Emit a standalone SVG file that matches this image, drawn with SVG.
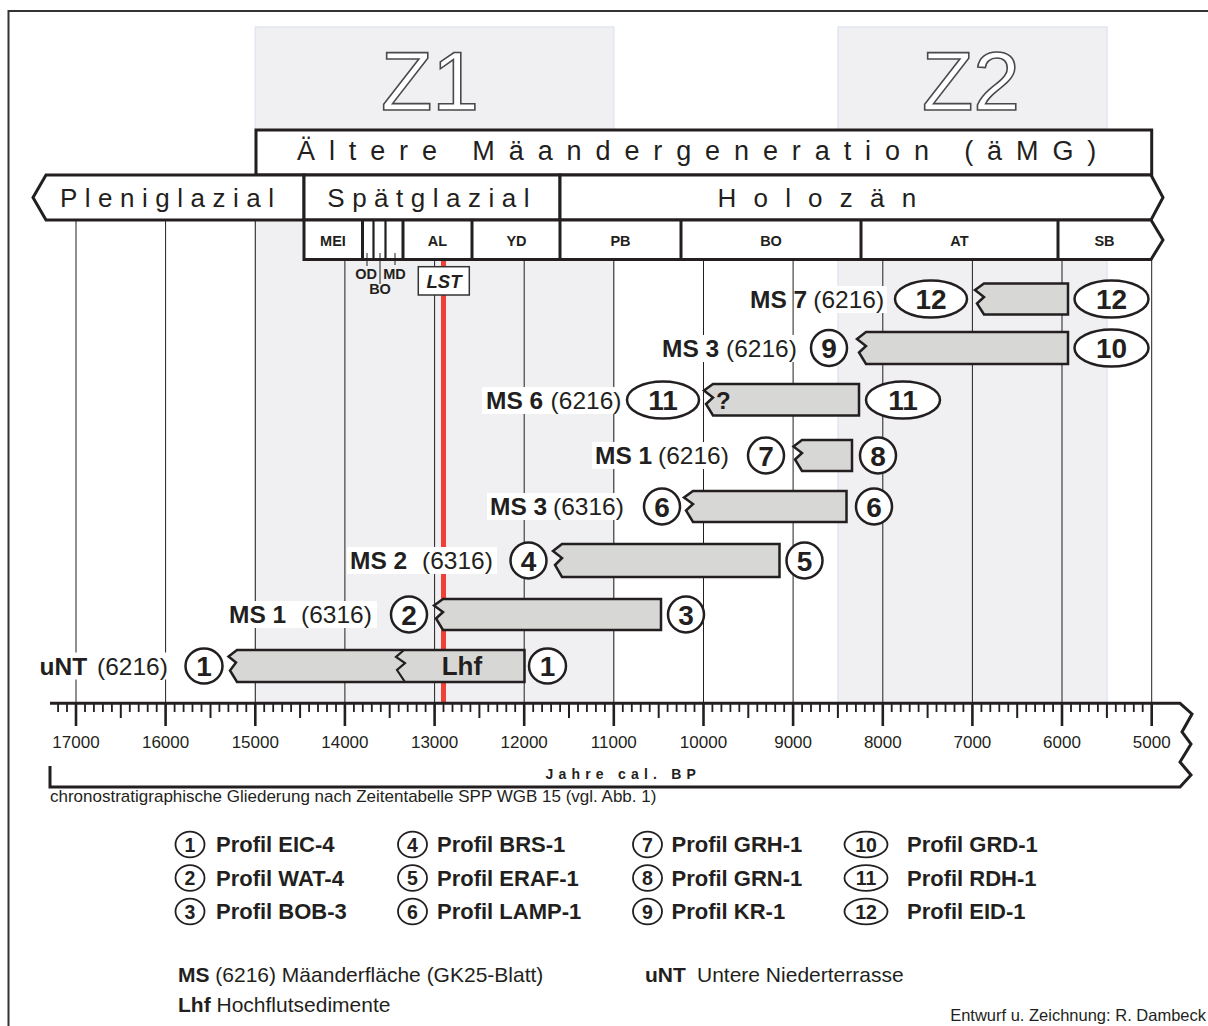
<svg xmlns="http://www.w3.org/2000/svg" width="1208" height="1026" viewBox="0 0 1208 1026">
<style>
text{font-family:"Liberation Sans",Arial,Helvetica,sans-serif;fill:#231f20}
.b{font-weight:bold}
.zone{fill:#f0eff1;stroke:#e1e6f1;stroke-width:1.5}
.ztxt{font-size:84px;fill:#fff;stroke:#4a4a4c;stroke-width:1.6;text-anchor:middle}
.grid{stroke:#231f20;stroke-width:1;fill:none}
.box{fill:#fff;stroke:#231f20;stroke-width:3}
.div{stroke:#231f20;stroke-width:3}
.thin{stroke:#231f20;stroke-width:2.2}
.lead{stroke:#231f20;stroke-width:1}
.hdr{font-size:27px;letter-spacing:13.9px}
.ep{font-size:26px;letter-spacing:7.5px}
.sub{font-size:14.5px;font-weight:bold;text-anchor:middle}
.bar{fill:#d7d7d5;stroke:#231f20;stroke-width:2.5}
.ring{fill:#fff;stroke:#231f20;stroke-width:2.5}
.num{font-size:28px;font-weight:bold;text-anchor:middle}
.lbl{font-size:24.5px}
.bg{fill:#fff}
.yr{font-size:17px;text-anchor:middle}
.lring{fill:#fff;stroke:#231f20;stroke-width:1.8}
.lnum{font-size:19.5px;font-weight:bold;text-anchor:middle}
.ltxt{font-size:22px;font-weight:bold}
.leg{font-size:21px}
</style>

<!-- frame -->
<path d="M8.5 1026V11H1208" fill="none" stroke="#333" stroke-width="2"/>

<!-- zones -->
<g id="zone-Z1">
<rect class="zone" x="255.3" y="27" width="358.5" height="676"/>
<text class="ztxt" x="430" y="110">Z1</text>
</g>
<g id="zone-Z2">
<rect class="zone" x="838" y="27" width="269" height="676"/>
<text class="ztxt" x="971" y="110">Z2</text>
</g>

<!-- grid lines -->
<g id="grid" class="grid">
<path d="M76 220V703M165.6 220V703M255.3 220V703M344.9 259V703M434.6 259V703M524.2 259V703M613.8 259V703M703.5 259V703M793.1 259V703M882.8 259V703M972.4 259V703M1062 259V703M1151.7 259V703"/>
</g>

<!-- LST red line -->
<g id="lst-line">
<rect x="441" y="259" width="5" height="444" fill="#ef4136"/>
</g>

<!-- header: Ältere Mäandergeneration -->
<g id="aemg">
<rect class="box" x="256" y="130" width="895.7" height="45"/>
<text class="hdr" x="297" y="159.5">Ältere Mäandergeneration (äMG)</text>
</g>

<!-- epochs -->
<g id="pleniglazial">
<path class="box" d="M46 175H304V220H46L33 197.5Z"/>
<text class="ep" x="60" y="206.5">Pleniglazial</text>
</g>
<g id="spaetglazial">
<rect class="box" x="304" y="175" width="256" height="45"/>
<text class="ep" x="327.3" y="206.5">Spätglazial</text>
</g>
<g id="holozaen">
<path class="box" d="M560 175H1151L1163 197.5L1151 220H560Z"/>
<text class="ep" x="717.5" y="206.5" style="letter-spacing:17.2px">Holozän</text>
</g>

<!-- chronozones -->
<g id="chronozones">
<path class="box" d="M304 220H1151L1163 240L1151 259.5H304Z"/>
<path class="div" d="M362.5 220V259.5M403 220V259.5M472 220V259.5M560 220V259.5M681 220V259.5M861 220V259.5M1058 220V259.5"/>
<path class="thin" d="M373.5 220V259.5M385.5 220V259.5"/>
<text class="sub" x="333" y="246">MEI</text>
<text class="sub" x="437.5" y="246">AL</text>
<text class="sub" x="516.5" y="246">YD</text>
<text class="sub" x="620.5" y="246">PB</text>
<text class="sub" x="771" y="246">BO</text>
<text class="sub" x="959.5" y="246">AT</text>
<text class="sub" x="1104.5" y="246">SB</text>
<path class="lead" d="M367 253V266M380 253V284M395 253V265"/>
<text class="sub" x="366" y="278.5">OD</text>
<text class="sub" x="394.5" y="278.5">MD</text>
<text class="sub" x="380" y="293.5">BO</text>
</g>

<g id="lst-label">
<rect x="418.3" y="266.7" width="51" height="28.3" fill="#fff" stroke="#333" stroke-width="1.5"/>
<text x="444" y="288" class="b" style="font-size:18.5px;font-style:italic;text-anchor:middle">LST</text>
</g>

<!-- row MS 7 (6216) -->
<g id="row-ms7-6216">
<rect class="bg" x="797" y="286" width="90" height="27"/>
<text class="lbl" y="307.8"><tspan class="b" x="750">MS 7</tspan><tspan x="813.3">(6216)</tspan></text>
<path class="bar" d="M984 283.5H1068V314.5H984L977 303.5L984 297L975 290Z"/>
<ellipse class="ring" cx="931" cy="299" rx="36" ry="18.5"/>
<text class="num" x="931" y="309">12</text>
<ellipse class="ring" cx="1111.5" cy="299" rx="37" ry="18.5"/>
<text class="num" x="1111.5" y="309">12</text>
</g>

<!-- row MS 3 (6216) -->
<g id="row-ms3-6216">
<rect class="bg" x="659" y="335" width="142" height="27"/>
<text class="lbl" y="356.8"><tspan class="b" x="662">MS 3</tspan><tspan x="726">(6216)</tspan></text>
<path class="bar" d="M866 332H1068V364H866L859 352.5L866 346L857 339Z"/>
<circle class="ring" cx="829" cy="348" r="18"/>
<text class="num" x="829" y="358">9</text>
<ellipse class="ring" cx="1111.5" cy="348" rx="37" ry="18.5"/>
<text class="num" x="1111.5" y="358">10</text>
</g>

<!-- row MS 6 (6216) -->
<g id="row-ms6-6216">
<rect class="bg" x="482" y="387" width="141" height="27"/>
<text class="lbl" y="408.8"><tspan class="b" x="486">MS 6</tspan><tspan x="550.6">(6216)</tspan></text>
<path class="bar" d="M713 384H859V415.5H713L706 404L713 397.5L704 390.5Z"/>
<text class="b" x="716" y="408.5" style="font-size:24px">?</text>
<ellipse class="ring" cx="663" cy="400" rx="36" ry="18.5"/>
<text class="num" x="663" y="410">11</text>
<ellipse class="ring" cx="903" cy="400" rx="37" ry="18.5"/>
<text class="num" x="903" y="410">11</text>
</g>

<!-- row MS 1 (6216) -->
<g id="row-ms1-6216">
<rect class="bg" x="592" y="442" width="143" height="27"/>
<text class="lbl" y="463.8"><tspan class="b" x="595">MS 1</tspan><tspan x="658">(6216)</tspan></text>
<path class="bar" d="M802 440H852V471H802L795 459.5L802 453L793.5 446.5Z"/>
<circle class="ring" cx="766" cy="455.5" r="18"/>
<text class="num" x="766" y="465.5">7</text>
<circle class="ring" cx="878" cy="455.5" r="18"/>
<text class="num" x="878" y="465.5">8</text>
</g>

<!-- row MS 3 (6316) -->
<g id="row-ms3-6316">
<rect class="bg" x="487" y="493" width="142" height="27"/>
<text class="lbl" y="514.8"><tspan class="b" x="490">MS 3</tspan><tspan x="553">(6316)</tspan></text>
<path class="bar" d="M693 491H846.5V522H693L686 510.5L693 504L684 497.5Z"/>
<circle class="ring" cx="662" cy="506.5" r="18"/>
<text class="num" x="662" y="516.5">6</text>
<circle class="ring" cx="874" cy="506.5" r="18"/>
<text class="num" x="874" y="516.5">6</text>
</g>

<!-- row MS 2 (6316) -->
<g id="row-ms2-6316">
<rect class="bg" x="347" y="547" width="150" height="27"/>
<text class="lbl" y="568.8"><tspan class="b" x="350">MS 2</tspan><tspan x="422">(6316)</tspan></text>
<path class="bar" d="M562 544H779.5V577H562L555 565L562 558L553 551Z"/>
<circle class="ring" cx="528.5" cy="560.5" r="18"/>
<text class="num" x="528.5" y="570.5">4</text>
<circle class="ring" cx="804.5" cy="560.5" r="18"/>
<text class="num" x="804.5" y="570.5">5</text>
</g>

<!-- row MS 1 (6316) -->
<g id="row-ms1-6316">
<rect class="bg" x="226" y="601" width="151" height="27"/>
<text class="lbl" y="622.8"><tspan class="b" x="229">MS 1</tspan><tspan x="301">(6316)</tspan></text>
<path class="bar" d="M443 599H661V630H443L436 618.5L443 612L434 605.5Z"/>
<circle class="ring" cx="409" cy="614.5" r="18"/>
<text class="num" x="409" y="624.5">2</text>
<circle class="ring" cx="686" cy="614.5" r="18"/>
<text class="num" x="686" y="624.5">3</text>
</g>

<!-- row uNT (6216) -->
<g id="row-unt-6216">
<rect class="bg" x="36" y="652.5" width="137" height="27"/>
<text class="lbl" y="674.8"><tspan class="b" x="39.5">uNT</tspan><tspan x="97">(6216)</tspan></text>
<path class="bar" d="M237 650H524.5V682H237L230 670.5L236 662.5L228.5 656.5Z"/>
<path d="M404 650L396 657L405 663L397 670L405 682" fill="none" stroke="#231f20" stroke-width="2.2"/>
<text class="b" x="441.7" y="675" style="font-size:26px">Lhf</text>
<ellipse class="ring" cx="204" cy="666" rx="18.5" ry="17.5"/>
<text class="num" x="204" y="676">1</text>
<ellipse class="ring" cx="547.5" cy="666" rx="18.5" ry="17.5"/>
<text class="num" x="547.5" y="676">1</text>
</g>

<!-- time axis -->
<g id="axis">
<path d="M50 703.3H1180L1192 714L1182 732L1191 744L1180 762L1191 775L1180 787H50V766" fill="none" stroke="#231f20" stroke-width="3" stroke-linejoin="miter"/>
<path stroke="#231f20" stroke-width="1.8" d="M58.1 703v9M67 703v9M85 703v9M93.9 703v9M102.9 703v9M111.9 703v9M129.8 703v9M138.7 703v9M147.7 703v9M156.7 703v9M174.6 703v9M183.6 703v9M192.5 703v9M201.5 703v9M219.4 703v9M228.4 703v9M237.4 703v9M246.3 703v9M264.2 703v9M273.2 703v9M282.2 703v9M291.1 703v9M309.1 703v9M318 703v9M327 703v9M336 703v9M353.9 703v9M362.8 703v9M371.8 703v9M380.8 703v9M398.7 703v9M407.7 703v9M416.6 703v9M425.6 703v9M443.5 703v9M452.5 703v9M461.5 703v9M470.4 703v9M488.3 703v9M497.3 703v9M506.3 703v9M515.2 703v9M533.2 703v9M542.1 703v9M551.1 703v9M560.1 703v9M578 703v9M586.9 703v9M595.9 703v9M604.9 703v9M622.8 703v9M631.8 703v9M640.7 703v9M649.7 703v9M667.6 703v9M676.6 703v9M685.6 703v9M694.5 703v9M712.4 703v9M721.4 703v9M730.4 703v9M739.3 703v9M757.3 703v9M766.2 703v9M775.2 703v9M784.2 703v9M802.1 703v9M811 703v9M820 703v9M829 703v9M846.9 703v9M855.9 703v9M864.8 703v9M873.8 703v9M891.7 703v9M900.7 703v9M909.7 703v9M918.6 703v9M936.5 703v9M945.5 703v9M954.5 703v9M963.4 703v9M981.4 703v9M990.3 703v9M999.3 703v9M1008.3 703v9M1026.2 703v9M1035.1 703v9M1044.1 703v9M1053.1 703v9M1071 703v9M1080 703v9M1088.9 703v9M1097.9 703v9M1115.8 703v9M1124.8 703v9M1133.8 703v9M1142.7 703v9"/>
<path stroke="#231f20" stroke-width="2" d="M120.8 703v15M210.5 703v15M300.1 703v15M389.7 703v15M479.4 703v15M569 703v15M658.7 703v15M748.3 703v15M837.9 703v15M927.6 703v15M1017.2 703v15M1106.9 703v15"/>
<path stroke="#231f20" stroke-width="2.6" d="M76 703v23M165.6 703v23M255.3 703v23M344.9 703v23M434.6 703v23M524.2 703v23M613.8 703v23M703.5 703v23M793.1 703v23M882.8 703v23M972.4 703v23M1062 703v23M1151.7 703v23"/>
<text class="yr" x="76" y="748">17000</text>
<text class="yr" x="165.6" y="748">16000</text>
<text class="yr" x="255.3" y="748">15000</text>
<text class="yr" x="344.9" y="748">14000</text>
<text class="yr" x="434.6" y="748">13000</text>
<text class="yr" x="524.2" y="748">12000</text>
<text class="yr" x="613.8" y="748">11000</text>
<text class="yr" x="703.5" y="748">10000</text>
<text class="yr" x="793.1" y="748">9000</text>
<text class="yr" x="882.8" y="748">8000</text>
<text class="yr" x="972.4" y="748">7000</text>
<text class="yr" x="1062" y="748">6000</text>
<text class="yr" x="1151.7" y="748">5000</text>
<text class="b" x="545.5" y="779" style="font-size:14px;letter-spacing:5.2px">Jahre cal. BP</text>
</g>

<text x="50" y="801.5" style="font-size:17px">chronostratigraphische Gliederung nach Zeitentabelle SPP WGB 15 (vgl. Abb. 1)</text>

<!-- legend of profiles -->
<g id="legend-profiles">
<ellipse class="lring" cx="190" cy="844.5" rx="14.5" ry="12.8"/><text class="lnum" x="190" y="851.5">1</text><text class="ltxt" x="216" y="852">Profil EIC-4</text>
<ellipse class="lring" cx="190" cy="878" rx="14.5" ry="12.8"/><text class="lnum" x="190" y="885">2</text><text class="ltxt" x="216" y="885.5">Profil WAT-4</text>
<ellipse class="lring" cx="190" cy="911.5" rx="14.5" ry="12.8"/><text class="lnum" x="190" y="918.5">3</text><text class="ltxt" x="216" y="919">Profil BOB-3</text>
<ellipse class="lring" cx="412.5" cy="844.5" rx="14.5" ry="12.8"/><text class="lnum" x="412.5" y="851.5">4</text><text class="ltxt" x="437" y="852">Profil BRS-1</text>
<ellipse class="lring" cx="412.5" cy="878" rx="14.5" ry="12.8"/><text class="lnum" x="412.5" y="885">5</text><text class="ltxt" x="437" y="885.5">Profil ERAF-1</text>
<ellipse class="lring" cx="412.5" cy="911.5" rx="14.5" ry="12.8"/><text class="lnum" x="412.5" y="918.5">6</text><text class="ltxt" x="437" y="919">Profil LAMP-1</text>
<ellipse class="lring" cx="647.5" cy="844.5" rx="14.5" ry="12.8"/><text class="lnum" x="647.5" y="851.5">7</text><text class="ltxt" x="671.5" y="852">Profil GRH-1</text>
<ellipse class="lring" cx="647.5" cy="878" rx="14.5" ry="12.8"/><text class="lnum" x="647.5" y="885">8</text><text class="ltxt" x="671.5" y="885.5">Profil GRN-1</text>
<ellipse class="lring" cx="647.5" cy="911.5" rx="14.5" ry="12.8"/><text class="lnum" x="647.5" y="918.5">9</text><text class="ltxt" x="671.5" y="919">Profil KR-1</text>
<ellipse class="lring" cx="866" cy="844.5" rx="21.5" ry="12.8"/><text class="lnum" x="866" y="851.5">10</text><text class="ltxt" x="907" y="852">Profil GRD-1</text>
<ellipse class="lring" cx="866" cy="878" rx="21.5" ry="12.8"/><text class="lnum" x="866" y="885">11</text><text class="ltxt" x="907" y="885.5">Profil RDH-1</text>
<ellipse class="lring" cx="866" cy="911.5" rx="21.5" ry="12.8"/><text class="lnum" x="866" y="918.5">12</text><text class="ltxt" x="907" y="919">Profil EID-1</text>
</g>

<!-- abbreviations -->
<g id="legend-abbr">
<text class="leg" x="178" y="981.5"><tspan class="b">MS</tspan> (6216) Mäanderfläche (GK25-Blatt)</text>
<text class="leg" x="178" y="1011.5"><tspan class="b">Lhf</tspan> Hochflutsedimente</text>
<text class="leg b" x="645" y="981.5">uNT</text>
<text class="leg" x="697" y="981.5">Untere Niederterrasse</text>
</g>

<text x="1206" y="1021" style="font-size:16.5px;text-anchor:end">Entwurf u. Zeichnung: R. Dambeck</text>
</svg>
